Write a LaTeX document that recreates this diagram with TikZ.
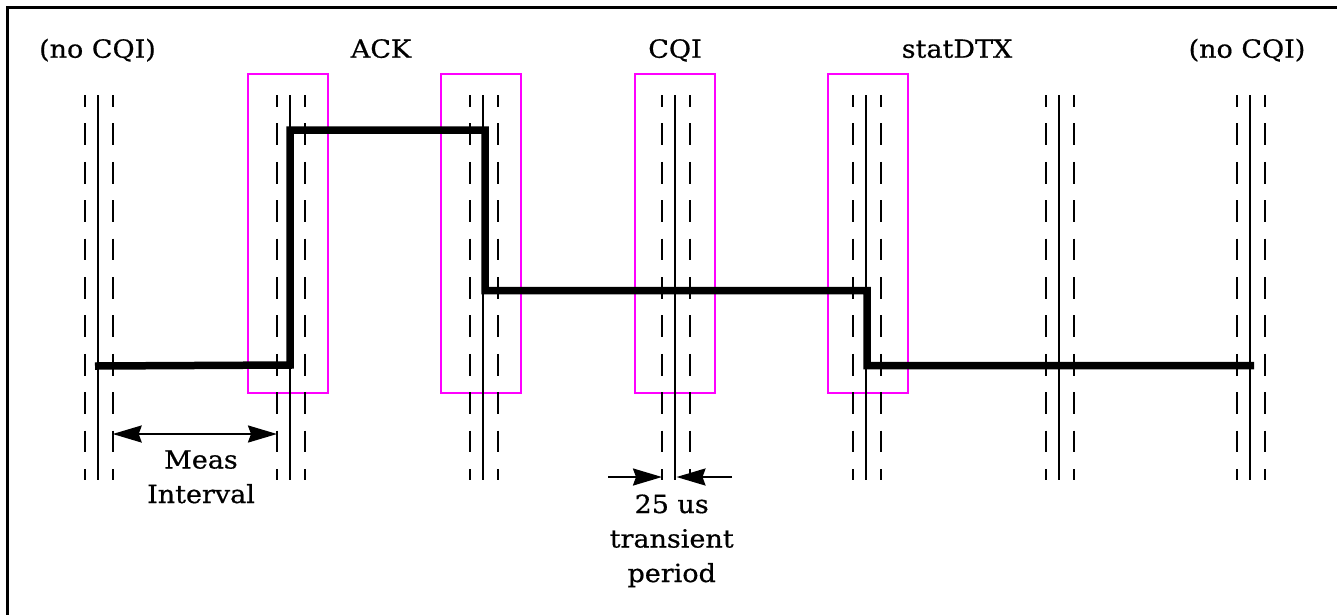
\documentclass[tikz,border=0pt]{standalone}
\usepackage{fontspec}
\setmainfont{DejaVu Serif}[FakeStretch=1.08, FakeBold=0.6]
\usetikzlibrary{arrows.meta}
\definecolor{winmag}{RGB}{255,0,255}
\begin{document}
\begin{tikzpicture}[x=1pt,y=-1pt,
  lbl/.style={font=\fontsize{25}{34.5}\selectfont, inner sep=0pt, anchor=base, align=center},
  guide/.style={line width=2.2pt, dash pattern=on 21.7pt off 16.7pt, dash phase=10pt},
  axisline/.style={line width=2pt},
  win/.style={draw=winmag, line width=1.8pt, minimum width=80pt, minimum height=319pt, inner sep=0pt},
  sig/.style={line width=7.5pt, line join=miter},
  tipshape/.tip={Stealth[length=29pt,width=17pt,inset=3pt]},
  dimarrow/.style={line width=2.2pt, -tipshape},
  twoway/.style={line width=2.2pt, tipshape-tipshape}]
\useasboundingbox (0,0) rectangle (1337,614);
\clip (0,0) rectangle (1337,614);
% frame (cut at right and bottom)
\draw[line width=3pt] (7,630) -- (7,7) -- (1350,7);
% measurement windows
\foreach \n/\x in {2/288,3/481,4/675,5/868}{
  \node[win] (w\n) at (\x,233.5) {};
}
% slot boundaries
\foreach \i/\x in {1/98,2/290,3/483,4/675,5/866,6/1059,7/1250}{
  \coordinate (g\i) at (\x,95);
  \coordinate (b\i) at (\x,480);
  \draw[axisline] (g\i) -- (b\i);
  \draw[guide] ([xshift=-13pt]g\i) -- ([xshift=-13pt]b\i);
  \draw[guide] ([xshift=15pt]g\i) -- ([xshift=15pt]b\i);
}
% signal level
\draw[sig] (95,366) -- (290,365) -- (290,130) -- (485,130) -- (485,290.5)
  -- (867,290.5) -- (867,365.5) -- (1254,365.5);
% labels
\node[lbl] (nc1) at (97.5,57.7) {(no CQI)};
\node[lbl] (ack) at (381,57.7) {ACK};
\node[lbl] (cqi) at (675,57.7) {CQI};
\node[lbl] (dtx) at (957,57.7) {statDTX};
\node[lbl] (nc2) at (1247,57.7) {(no CQI)};
% measurement interval
\coordinate (m1) at (112.7,434);
\coordinate (m2) at (277,434);
\draw[twoway] (m1) -- (m2);
\node[lbl] (meas) at (201,503) {Meas\\Interval};
% transient period
\coordinate (t1s) at (608,477);
\coordinate (t1e) at (662,477);
\coordinate (t2s) at (732,477);
\coordinate (t2e) at (676.5,477);
\draw[dimarrow] (t1s) -- (t1e);
\draw[dimarrow] (t2s) -- (t2e);
\node[lbl] (trans) at (671.7,582) {25 us\\transient\\period};
\end{tikzpicture}
\end{document}
